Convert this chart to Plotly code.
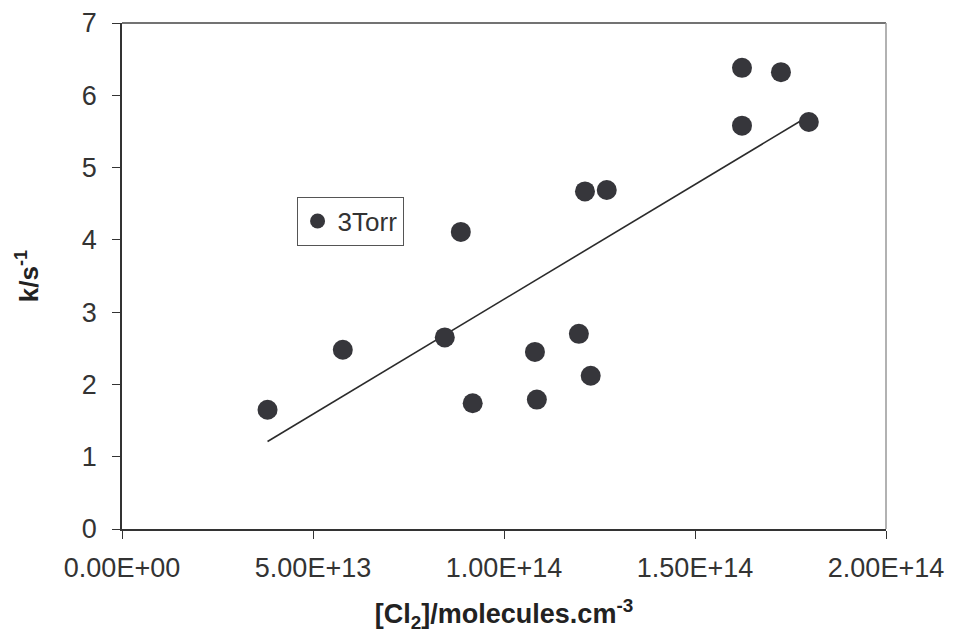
import numpy as np
import plotly.graph_objects as go

# [Cl2] / molecules cm^-3 and k / s^-1 for 3 Torr
cl2 = [3.81e13, 5.78e13, 8.45e13, 8.87e13, 9.18e13, 1.081e14, 1.086e14, 1.196e14,
       1.227e14, 1.212e14, 1.269e14, 1.623e14, 1.623e14, 1.725e14, 1.798e14]
k = [1.65, 2.48, 2.65, 4.11, 1.74, 2.45, 1.79, 2.70,
     2.12, 4.67, 4.69, 6.38, 5.58, 6.32, 5.63]
x_ticks = [0, 5e13, 1e14, 1.5e14, 2e14]
x_tick_labels = ["0.00E+00", "5.00E+13", "1.00E+14", "1.50E+14", "2.00E+14"]
y_ticks = [0, 1, 2, 3, 4, 5, 6, 7]

xa = np.array(cl2)
ya = np.array(k)
slope = float((xa * ya).sum() / (xa * xa).sum())  # linear trend through origin
fit_x = [float(xa.min()), float(xa.max())]
fit_y = [slope * v for v in fit_x]

dark = "#36363b"
font = "Liberation Sans, Arial, sans-serif"

fig = go.Figure()
fig.add_trace(go.Scatter(x=fit_x, y=fit_y, mode="lines",
                         line=dict(color="#2b2b2b", width=1.6),
                         showlegend=False, hoverinfo="skip"))
fig.add_trace(go.Scatter(x=cl2, y=k, mode="markers", name="3Torr",
                         marker=dict(size=20, color=dark), showlegend=False))
# legend entry (no data points)
fig.add_trace(go.Scatter(x=[None], y=[None], mode="markers", name="3Torr",
                         marker=dict(size=15, color=dark), showlegend=True))

fig.update_layout(
    width=953, height=643,
    margin=dict(l=122, r=67, t=23, b=114),
    plot_bgcolor="white", paper_bgcolor="white",
    font=dict(family=font, size=27, color="#333333"),
    showlegend=True,
    legend=dict(x=0.2285, y=0.657, xanchor="left", yanchor="top",
                bordercolor="#555555", borderwidth=1, bgcolor="white",
                font=dict(size=26, color="#333333"),
                itemsizing="trace", tracegroupgap=0, itemwidth=30),
    xaxis=dict(range=[0, 2e14], tickvals=x_ticks, ticktext=x_tick_labels,
               showgrid=False, zeroline=False, showline=True,
               linecolor="#333333", linewidth=1.5, automargin=False,
               ticks="outside", ticklen=8, tickcolor="#333333",
               ticklabelstandoff=6,
               title=dict(text="<b>[Cl<sub>2</sub>]/molecules.cm<sup>-3</sup></b>",
                          font=dict(size=27, color="#222222"), standoff=22)),
    yaxis=dict(range=[0, 7], tickvals=y_ticks,
               showgrid=False, zeroline=False, showline=True,
               linecolor="#333333", linewidth=1.5, automargin=False,
               ticks="outside", ticklen=8, tickcolor="#333333",
               ticklabelstandoff=10,
               title=dict(text="<b>k/s<sup>-1</sup></b>",
                          font=dict(size=26, color="#222222"), standoff=36)),
    shapes=[
        dict(type="line", xref="paper", yref="paper", x0=0, x1=1, y0=1, y1=1,
             line=dict(color="#444444", width=1.5)),
        dict(type="line", xref="paper", yref="paper", x0=1, x1=1, y0=0, y1=1,
             line=dict(color="#999999", width=1.5)),
    ],
)

fig.write_html("out.html")
